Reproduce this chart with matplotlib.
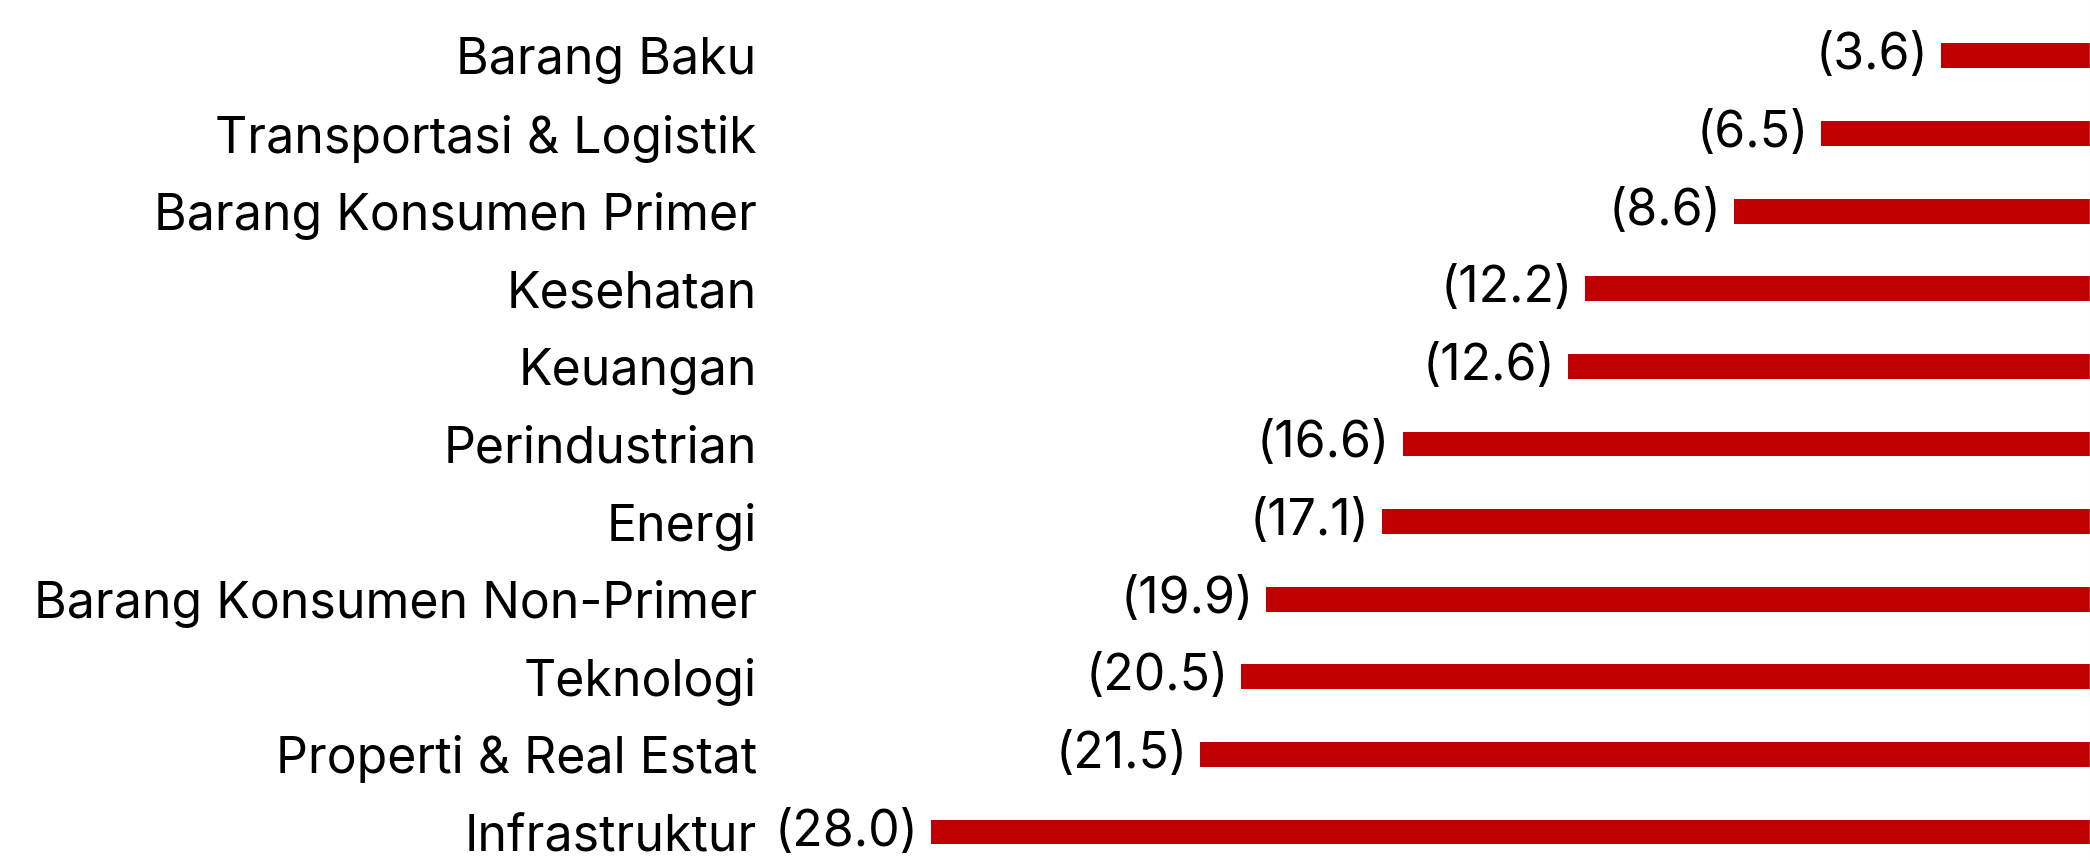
import numpy as np
import matplotlib.pyplot as plt

plt.rcParams['font.family'] = ['Inter', 'DejaVu Sans']

sectors = ['Barang Baku', 'Transportasi & Logistik', 'Barang Konsumen Primer',
           'Kesehatan', 'Keuangan', 'Perindustrian', 'Energi',
           'Barang Konsumen Non-Primer', 'Teknologi', 'Properti & Real Estat',
           'Infrastruktur']
values = [-3.6, -6.5, -8.6, -12.2, -12.6, -16.6, -17.1, -19.9, -20.5, -21.5, -28.0]

bar_color = '#C00000'

fig = plt.figure(figsize=(20.9, 8.6), dpi=100)
ax = fig.add_axes([0.37, 0.0, 0.63, 1.0])

y = np.arange(len(sectors))
ax.barh(y, values, height=0.32, color=bar_color)

for yi, v in zip(y, values):
    ax.text(v - 0.3, yi, '(%.1f)' % abs(v), ha='right', va='center',
            fontsize=36, color='black')

ax.set_xlim(-31.8, 0)
ax.set_ylim(10.36, -0.72)
ax.set_yticks(y)
ax.set_yticklabels(sectors, fontsize=36)
ax.tick_params(axis='y', length=0, pad=12)
ax.set_xticks([])
for s in ['top', 'left', 'bottom']:
    ax.spines[s].set_visible(False)
ax.spines['right'].set_color('#e0e0e0')
ax.spines['right'].set_linewidth(1.0)

fig.savefig('out.png', dpi=100)
